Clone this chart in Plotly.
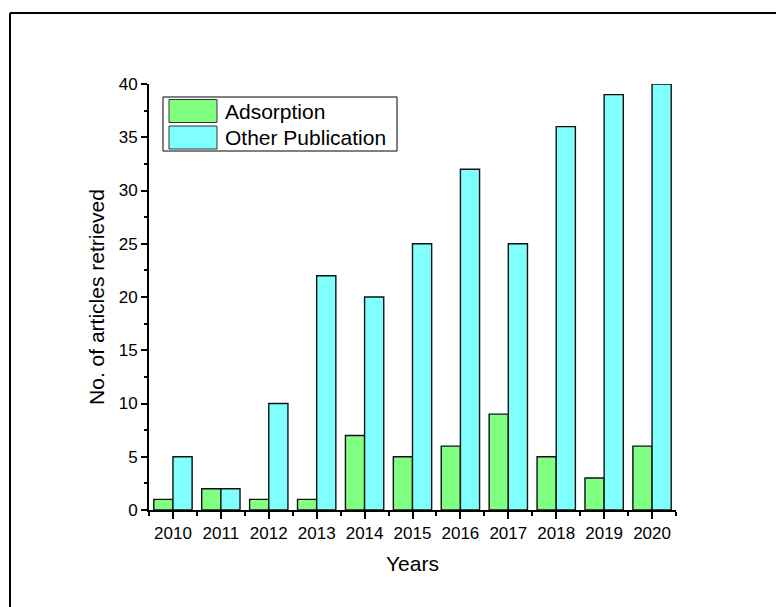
import plotly.graph_objects as go

# Article counts per year
years = [2010, 2011, 2012, 2013, 2014, 2015, 2016, 2017, 2018, 2019, 2020]
adsorption = [1, 2, 1, 1, 7, 5, 6, 9, 5, 3, 6]
other_publication = [5, 2, 10, 22, 20, 25, 32, 25, 36, 39, 40]
series_names = ["Adsorption", "Other Publication"]
series_colors = ["#80FF80", "#80FFFF"]

W, H = 776, 607
L, R, T, B = 149, 100, 84, 97
PW, PH = W - L - R, H - T - B
FONT = "Liberation Sans, Arial, sans-serif"


def px(x):
    return (x - L) / PW


def py(y):
    return (H - B - y) / PH


fig = go.Figure()
for name, vals, col in zip(series_names, [adsorption, other_publication], series_colors):
    fig.add_trace(go.Bar(
        x=years, y=vals, name=name,
        marker=dict(color=col, line=dict(color="#111111", width=1.4)),
        showlegend=False,
    ))

axis_common = dict(
    showline=True, linecolor="black", linewidth=2, mirror=False,
    ticks="outside", tickcolor="black", tickwidth=2,
    showgrid=False, zeroline=False,
    tickfont=dict(family=FONT, size=17, color="black"),
)

fig.update_xaxes(
    range=[years[0] - 0.5, years[-1] + 0.5], tickmode="array", tickvals=years,
    ticktext=[str(y) for y in years], ticklen=7,
    minor=dict(tick0=years[0] - 0.5, dtick=1, ticks="outside", ticklen=4,
               tickwidth=2, tickcolor="black"),
    title=dict(text="Years", font=dict(family=FONT, size=21, color="black"), standoff=14),
    **axis_common,
)
fig.update_yaxes(
    range=[0, 40], tick0=0, dtick=5, ticklen=6,
    minor=dict(tick0=0, dtick=2.5, ticks="outside", ticklen=3.5,
               tickwidth=2, tickcolor="black"),
    title=dict(text="No. of articles retrieved",
               font=dict(family=FONT, size=21, color="black"), standoff=8),
    **axis_common,
)

shapes = [
    # page frame (top and left edges)
    dict(type="line", xref="paper", yref="paper", x0=px(10), x1=px(W + 20),
         y0=py(13), y1=py(13), line=dict(color="black", width=2)),
    dict(type="line", xref="paper", yref="paper", x0=px(10), x1=px(10),
         y0=py(13), y1=py(H + 20), line=dict(color="black", width=2)),
    # legend box
    dict(type="rect", xref="paper", yref="paper", x0=px(163), x1=px(397),
         y0=py(151), y1=py(97), line=dict(color="black", width=1),
         fillcolor="rgba(0,0,0,0)"),
]
annotations = []
rows = [(99.5, 122.5), (126, 149)]
for (top, bot), name, col in zip(rows, series_names, series_colors):
    shapes.append(dict(type="rect", xref="paper", yref="paper", x0=px(169), x1=px(217),
                       y0=py(bot), y1=py(top), fillcolor=col,
                       line=dict(color="#333333", width=1)))
    annotations.append(dict(xref="paper", yref="paper", x=px(223), y=py((top + bot) / 2),
                            text=name, showarrow=False, xanchor="left", yanchor="middle",
                            font=dict(family=FONT, size=21, color="black")))

fig.update_layout(
    width=W, height=H,
    margin=dict(l=L, r=R, t=T, b=B),
    paper_bgcolor="white", plot_bgcolor="white",
    barmode="group", bargap=0.2, bargroupgap=0,
    shapes=shapes, annotations=annotations,
    showlegend=False,
)

fig.write_html("out.html")
